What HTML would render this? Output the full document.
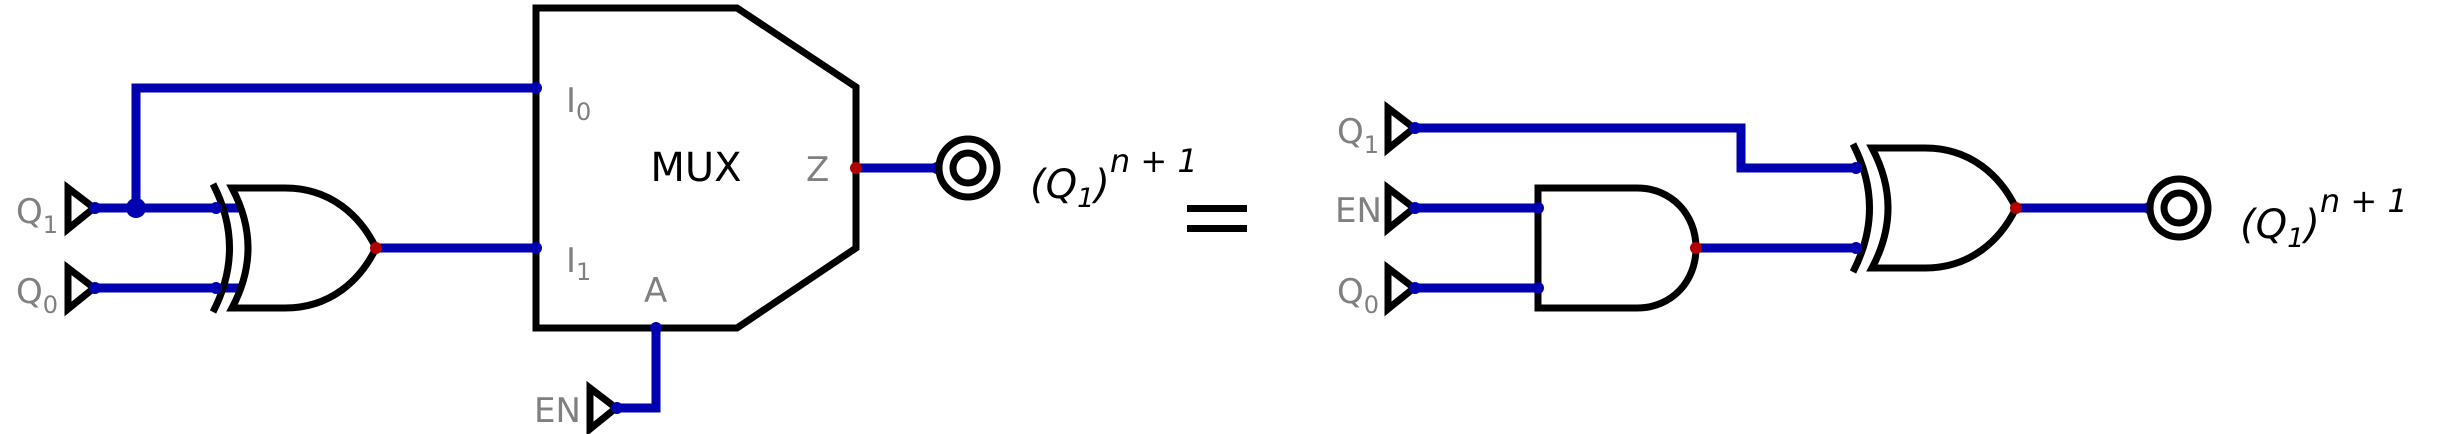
<!DOCTYPE html>
<html><head><style>
html,body{margin:0;padding:0;background:#fff;}
svg{display:block;}
.lbl{font-family:"DejaVu Sans","Liberation Sans",sans-serif;fill:#808080;}
.out{font-family:"DejaVu Sans","Liberation Sans",sans-serif;font-style:italic;fill:#000;}
</style></head><body>
<svg width="2464" height="434" viewBox="0 0 2464 434" xmlns="http://www.w3.org/2000/svg">
<defs>
<g id="xor">
<path d="M232,188 L285,188 C330,188 360,215 376,248 C360,281 330,308 285,308 L232,308 Q264,248 232,188 Z" fill="#fff" stroke="#000" stroke-width="7" stroke-linejoin="miter"/>
<path d="M213,184 Q246,248 213,312" fill="none" stroke="#000" stroke-width="7"/>
</g>
<g id="inp">
<path d="M68,188 L94,208 L68,229 Z" fill="#fff" stroke="#000" stroke-width="7"/>
</g>
<g id="outc">
<circle cx="0" cy="0" r="29" fill="#fff" stroke="#000" stroke-width="7"/>
<circle cx="0" cy="0" r="15" fill="none" stroke="#000" stroke-width="7"/>
</g>
</defs>

<!-- LEFT -->
<g fill="none" stroke="#0000b0" stroke-width="9">
<polyline points="536,88 136,88 136,208"/>
<line x1="95" y1="208" x2="240" y2="208"/>
<line x1="95" y1="288" x2="240" y2="288"/>
<line x1="376" y1="248" x2="536" y2="248"/>
<polyline points="656,328 656,408 617,408"/>
<line x1="856" y1="168" x2="937" y2="168"/>
</g>
<use href="#xor"/>
<polygon points="536,8 737,8 856,87 856,248 737,328 536,328" fill="none" stroke="#000" stroke-width="7"/>
<use href="#inp"/>
<use href="#inp" transform="translate(0,80)"/>
<use href="#inp" transform="translate(522,200)"/>
<g fill="#0000b0">
<circle cx="95" cy="208" r="6"/><circle cx="95" cy="288" r="6"/>
<circle cx="136" cy="208" r="10"/>
<circle cx="216" cy="208" r="6"/><circle cx="216" cy="288" r="6"/>
<circle cx="536" cy="88" r="6"/><circle cx="536" cy="248" r="6"/>
<circle cx="656" cy="328" r="6"/><circle cx="617" cy="408" r="6"/>
<circle cx="937" cy="168" r="6"/>
</g>
<g fill="#b00000"><circle cx="376" cy="248" r="6"/><circle cx="856" cy="168" r="6"/></g>
<use href="#outc" transform="translate(968,168)"/>
<text class="lbl" x="16" y="223" font-size="34">Q<tspan font-size="24" dy="10">1</tspan></text>
<text class="lbl" x="16" y="303" font-size="34">Q<tspan font-size="24" dy="10">0</tspan></text>
<text class="lbl" x="534" y="422" font-size="34">EN</text>
<text class="lbl" x="566" y="112" font-size="34">I<tspan font-size="24" dy="8">0</tspan></text>
<text class="lbl" x="566" y="272" font-size="34">I<tspan font-size="24" dy="8">1</tspan></text>
<text class="lbl" x="644" y="302" font-size="34">A</text>
<text class="lbl" x="806" y="181" font-size="34">Z</text>
<text x="696" y="181" font-size="40" text-anchor="middle" font-family="DejaVu Sans, Liberation Sans, sans-serif" fill="#000">MUX</text>
<text class="out" x="1030" y="198" font-size="40">(Q<tspan font-size="27" dy="9">1</tspan><tspan font-size="40" dy="-9">)</tspan><tspan font-size="32" dy="-26">n + 1</tspan></text>

<rect x="1187" y="205" width="60" height="7" fill="#000"/>
<rect x="1187" y="225" width="60" height="7" fill="#000"/>

<!-- RIGHT -->
<g fill="none" stroke="#0000b0" stroke-width="9">
<polyline points="1415,128 1741,128 1741,168 1860,168"/>
<line x1="1415" y1="208" x2="1538" y2="208"/>
<line x1="1415" y1="288" x2="1538" y2="288"/>
<line x1="1696" y1="248" x2="1860" y2="248"/>
<line x1="2016" y1="208" x2="2149" y2="208"/>
</g>
<path d="M1538,188 L1637,188 C1672,188 1696,215 1696,248 C1696,281 1672,308 1637,308 L1538,308 Z" fill="#fff" stroke="#000" stroke-width="7"/>
<use href="#xor" transform="translate(1640,-40)"/>
<use href="#inp" transform="translate(1320,-80)"/>
<use href="#inp" transform="translate(1320,0)"/>
<use href="#inp" transform="translate(1320,80)"/>
<g fill="#0000b0">
<circle cx="1415" cy="128" r="6"/><circle cx="1415" cy="208" r="6"/><circle cx="1415" cy="288" r="6"/>
<circle cx="1538" cy="208" r="6"/><circle cx="1538" cy="288" r="6"/>
<circle cx="1856" cy="168" r="6"/><circle cx="1856" cy="248" r="6"/>
<circle cx="2149" cy="208" r="6"/>
</g>
<g fill="#b00000"><circle cx="1696" cy="248" r="6"/><circle cx="2016" cy="208" r="6"/></g>
<use href="#outc" transform="translate(2179,208)"/>
<text class="lbl" x="1337" y="143" font-size="34">Q<tspan font-size="24" dy="10">1</tspan></text>
<text class="lbl" x="1335" y="222" font-size="34">EN</text>
<text class="lbl" x="1337" y="303" font-size="34">Q<tspan font-size="24" dy="10">0</tspan></text>
<text class="out" x="2240" y="238" font-size="40">(Q<tspan font-size="27" dy="9">1</tspan><tspan font-size="40" dy="-9">)</tspan><tspan font-size="32" dy="-26">n + 1</tspan></text>
</svg>
</body></html>
